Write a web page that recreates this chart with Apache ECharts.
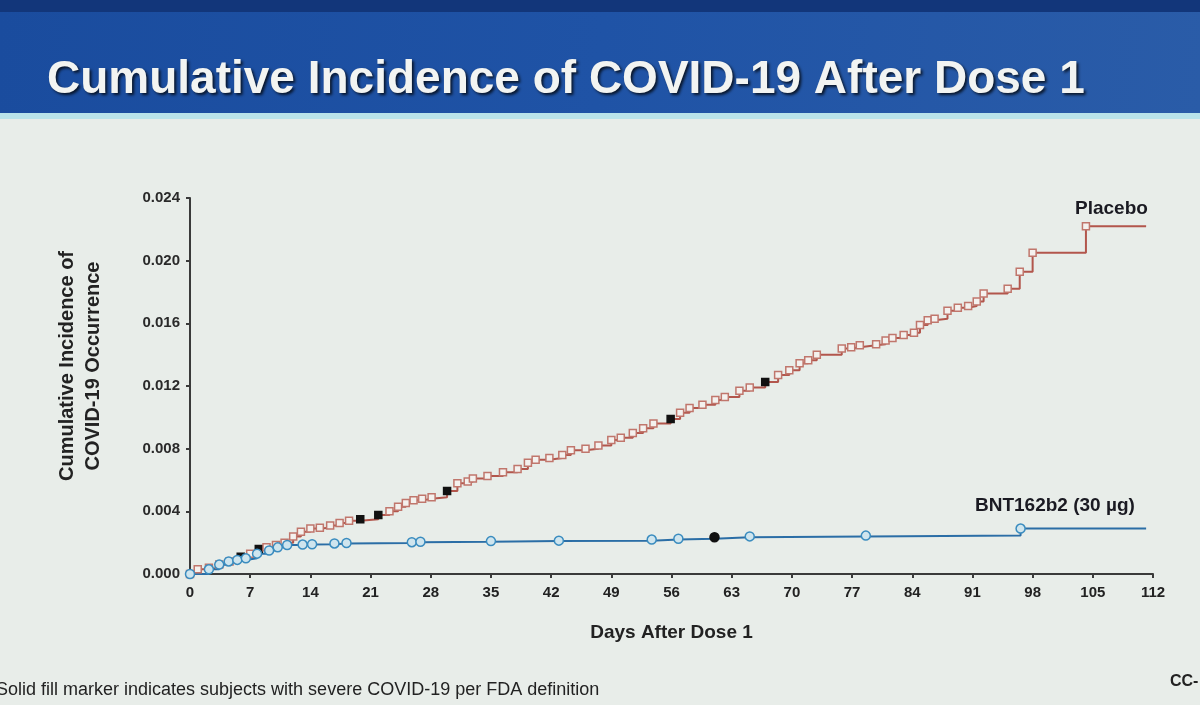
<!DOCTYPE html>
<html>
<head>
<meta charset="utf-8">
<script src="https://cdn.jsdelivr.net/npm/echarts@6/dist/echarts.min.js"></script>
<style>
  html, body { margin: 0; padding: 0; background: #e8ede9; }
  #main { width: 1200px; height: 705px; }
</style>
</head>
<body>
<div id="main"></div>
<script>
var dom = document.getElementById("main");
var myChart = echarts.init(dom);

// days after dose 1 / cumulative incidence
var placeboDays = [0, 0.9, 2.2, 3.4, 4.6, 5.9, 7.0, 8.0, 8.9, 10.0, 11.0, 12.0, 12.9, 14.0, 15.1, 16.3, 17.4, 18.5, 19.8, 21.9,
    23.2, 24.2, 25.1, 26.0, 27.0, 28.1, 29.9, 31.1, 32.3, 32.9, 34.6, 36.4, 38.1, 39.3, 40.2, 41.8, 43.3, 44.3, 46.0, 47.5,
    49.0, 50.1, 51.5, 52.7, 53.9, 55.9, 57.0, 58.1, 59.6, 61.1, 62.2, 63.9, 65.1, 66.9, 68.4, 69.7, 70.9, 71.9, 72.9, 75.8,
    76.9, 77.9, 79.8, 80.9, 81.7, 83.0, 84.2, 84.9, 85.8, 86.6, 88.1, 89.3, 90.5, 91.5, 92.3, 95.1, 96.5, 98.0, 104.2, 111.2];
var placeboValues = [0, 0.0003, 0.0004, 0.0006, 0.0008, 0.0011, 0.0013, 0.0016, 0.0017, 0.00185, 0.0020, 0.0024, 0.0027, 0.0029, 0.00295, 0.0031, 0.00325, 0.0034, 0.0035, 0.00376,
    0.0040, 0.0043, 0.00453, 0.0047, 0.0048, 0.0049, 0.0053, 0.0058, 0.0059, 0.0061, 0.00625, 0.0065, 0.0067, 0.0071, 0.0073, 0.0074, 0.0076, 0.0079, 0.0080, 0.0082,
    0.00855, 0.0087, 0.0090, 0.0093, 0.0096, 0.0099, 0.0103, 0.0106, 0.0108, 0.0111, 0.0113, 0.0117, 0.0119, 0.01225, 0.0127, 0.0130, 0.01345, 0.01365, 0.0140, 0.0144,
    0.01448, 0.0146, 0.01467, 0.0149, 0.01506, 0.01525, 0.0154, 0.0159, 0.0162, 0.0163, 0.0168, 0.0170, 0.0171, 0.0174, 0.0179, 0.0182, 0.0193, 0.0205, 0.0222, 0.0222];
var placeboSevere = [5.9, 8.0, 19.8, 21.9, 29.9, 55.9, 66.9];

var vaccineDays = [0, 2.2, 3.4, 4.5, 5.5, 6.5, 7.8, 9.2, 10.2, 11.3, 13.1, 14.2, 16.8, 18.2, 25.8, 26.8, 35.0, 42.9, 53.7, 56.8,
    61.0, 65.1, 78.6, 96.6, 111.2];
var vaccineValues = [0, 0.0003, 0.0006, 0.0008, 0.0009, 0.0010, 0.0013, 0.0015, 0.0017, 0.00185, 0.00188, 0.0019, 0.00195, 0.00198, 0.00203, 0.00206, 0.0021, 0.00213, 0.0022, 0.00225,
    0.00235, 0.0024, 0.00245, 0.0029, 0.0029];
var vaccineSevere = [61.0];

var xTicks = [0, 7, 14, 21, 28, 35, 42, 49, 56, 63, 70, 77, 84, 91, 98, 105, 112];

function buildData(days, values, severe) {
    return days.map(function (d, i) {
        var item = { value: [d, values[i]] };
        if (i === days.length - 1) {
            item.symbol = 'none';
        } else if (severe.indexOf(d) >= 0) {
            item.itemStyle = { color: '#111', borderColor: '#111' };
        }
        return item;
    });
}

var font = 'Arial, "Liberation Sans", sans-serif';

option = {
    backgroundColor: '#e8ede9',
    animation: false,
    title: {
        text: 'Cumulative Incidence of COVID-19 After Dose 1',
        left: 42,
        top: 52,
        textStyle: {
            color: '#f2f4f2',
            fontFamily: font,
            fontWeight: 'bold',
            fontSize: 46,
            textShadowColor: 'rgba(0,0,0,0.75)',
            textShadowBlur: 3,
            textShadowOffsetX: 2,
            textShadowOffsetY: 2
        }
    },
    graphic: [
        {
            type: 'rect', z: -10, silent: true,
            shape: { x: 0, y: 0, width: 1200, height: 113 },
            style: {
                fill: new echarts.graphic.LinearGradient(0, 0, 1, 1, [
                    { offset: 0, color: '#1a4c9e' },
                    { offset: 0.5, color: '#1f53a6' },
                    { offset: 1, color: '#2a5ca8' }
                ])
            }
        },
        {
            type: 'rect', z: -10, silent: true,
            shape: { x: 0, y: 0, width: 1200, height: 12 },
            style: { fill: '#12367a' }
        },
        {
            type: 'rect', z: -10, silent: true,
            shape: { x: 0, y: 113, width: 1200, height: 6 },
            style: { fill: '#b9e3ea' }
        },
        {
            type: 'text', left: 1075, top: 199,
            style: { text: 'Placebo', fill: '#1a1a22', font: 'bold 19px ' + font }
        },
        {
            type: 'text', left: 975, top: 496,
            style: { text: 'BNT162b2 (30 µg)', fill: '#1a1a22', font: 'bold 19px ' + font }
        },
        {
            type: 'text', left: -4, top: 681,
            style: { text: 'Solid fill marker indicates subjects with severe COVID-19 per FDA definition', fill: '#222', font: '18px ' + font }
        },
        {
            type: 'text', left: 1170, top: 674,
            style: { text: 'CC-', fill: '#222', font: 'bold 16px ' + font }
        }
    ],
    grid: {
        left: 190,
        right: 47,
        top: 198,
        bottom: 131
    },
    xAxis: {
        type: 'value',
        min: 0,
        max: 112,
        interval: 7,
        name: 'Days After Dose 1',
        nameLocation: 'middle',
        nameGap: 49,
        nameTextStyle: { color: '#222', fontFamily: font, fontWeight: 'bold', fontSize: 19 },
        axisLine: { lineStyle: { color: '#3a3a3a', width: 2 } },
        axisTick: { show: true, length: 4, lineStyle: { color: '#3a3a3a', width: 2 } },
        splitLine: { show: false },
        axisLabel: {
            color: '#222', fontFamily: font, fontWeight: 'bold', fontSize: 15, margin: 11,
            customValues: xTicks
        }
    },
    yAxis: {
        type: 'value',
        min: 0,
        max: 0.024,
        interval: 0.004,
        name: 'Cumulative Incidence of\nCOVID-19 Occurrence',
        nameLocation: 'middle',
        nameRotate: 90,
        nameGap: 84,
        nameTextStyle: { color: '#222', fontFamily: font, fontWeight: 'bold', fontSize: 20, lineHeight: 26, padding: [0, 0, 0, 40] },
        axisLine: { show: true, lineStyle: { color: '#3a3a3a', width: 2 } },
        axisTick: { show: true, length: 4, lineStyle: { color: '#3a3a3a', width: 2 } },
        splitLine: { show: false },
        axisLabel: {
            color: '#2a2a2a', fontFamily: font, fontWeight: 'bold', fontSize: 15, margin: 10,
            formatter: function (v) { return v.toFixed(3); }
        }
    },
    series: [
        {
            name: 'Placebo',
            type: 'line',
            step: 'end',
            showAllSymbol: true,
            symbol: 'rect',
            symbolSize: 7,
            lineStyle: { color: '#b2564c', width: 2 },
            itemStyle: { color: '#f4f1ee', borderColor: '#c0766c', borderWidth: 1.5 },
            data: buildData(placeboDays, placeboValues, placeboSevere)
        },
        {
            name: 'BNT162b2 (30 µg)',
            type: 'line',
            step: 'end',
            showAllSymbol: true,
            symbol: 'circle',
            symbolSize: 9,
            lineStyle: { color: '#2b6ea6', width: 2 },
            itemStyle: { color: '#cfe5ee', borderColor: '#3a8cbf', borderWidth: 1.5 },
            data: buildData(vaccineDays, vaccineValues, vaccineSevere)
        }
    ]
};

if (option && typeof option === "object") {
    myChart.setOption(option, true);
}
</script>
</body>
</html>
